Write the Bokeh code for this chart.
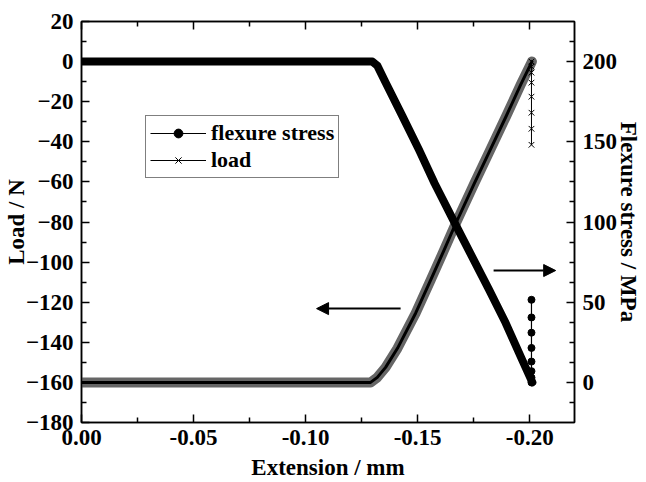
from bokeh.plotting import figure
from bokeh.models import (Range1d, LinearAxis, FixedTicker, PrintfTickFormatter,
                          Legend, LegendItem, Arrow, NormalHead, ColumnDataSource)
from bokeh.embed import file_html
from bokeh.resources import INLINE

# ---------------- data ----------------
stress_ext = [0.0, -0.1298, -0.1320, -0.1357, -0.1432, -0.1506, -0.1576,
              -0.1667, -0.1737, -0.1818, -0.1893, -0.1960, -0.2012]
stress_mpa = [200, 200, 197.5, 187, 166, 145, 124, 99, 80, 58, 37, 16, 0]

load_ext = [0.0, -0.1290, -0.1320, -0.1357, -0.1410, -0.1491, -0.1558,
            -0.1618, -0.1667, -0.1752, -0.1826, -0.1896, -0.1960, -0.2010]
load_n = [-160, -160, -157.5, -152.5, -143, -125.5, -109, -94, -81.5,
          -61, -43.5, -27, -11.5, 0]

end_ext = [-0.2008, -0.2008, -0.2008, -0.2008, -0.2008, -0.2008, -0.2008, -0.2008]
end_stress = [0, 3, 7, 13, 21.5, 31, 40.5, 51.5]
end_load = [0, -2.5, -5.5, -10.5, -17.5, -25.5, -33.5, -41.5]

x_ticks = [0.0, -0.05, -0.10, -0.15, -0.20]
x_minor = [-0.025, -0.075, -0.125, -0.175]
load_ticks = [-180, -160, -140, -120, -100, -80, -60, -40, -20, 0, 20]
load_minor = [-170, -150, -130, -110, -90, -70, -50, -30, -10, 10]
stress_ticks = [0, 50, 100, 150, 200]
stress_minor = [-12.5, 12.5, 25, 37.5, 62.5, 75, 87.5, 112.5, 125, 137.5,
                162.5, 175, 187.5, 212.5]

FONT = "Liberation Serif"

p = figure(width=646, height=482, output_backend="svg", toolbar_location=None,
           x_range=Range1d(0, -0.22), y_range=Range1d(-180, 20),
           min_border_left=81, min_border_right=72, min_border_top=21,
           min_border_bottom=60)
p.extra_y_ranges = {"stress": Range1d(-25, 225)}
p.grid.visible = False
p.outline_line_color = "black"
p.outline_line_width = 1.5
p.background_fill_color = "white"
p.border_fill_color = "white"

# ---------------- data glyphs ----------------
src_load = ColumnDataSource(dict(x=load_ext, y=load_n))
src_stress = ColumnDataSource(dict(x=stress_ext, y=stress_mpa))
src_end = ColumnDataSource(dict(x=end_ext, s=end_stress, l=end_load))

p.line("x", "y", source=src_load, line_color="#666666", line_width=10,
       line_join="round", line_cap="round")
p.line("x", "y", source=src_load, line_color="black", line_width=3,
       line_join="round", line_cap="round")
p.line("x", "y", source=src_stress, y_range_name="stress", line_color="black",
       line_width=8, line_join="round", line_cap="round")

r_ll = p.line("x", "l", source=src_end, line_color="black", line_width=1)
r_lx = p.scatter("x", "l", source=src_end, marker="x", size=8, line_color="black",
                 line_width=1)
r_sl = p.line("x", "s", source=src_end, y_range_name="stress", line_color="black",
              line_width=1.2)
r_sd = p.scatter("x", "s", source=src_end, y_range_name="stress", marker="circle",
                 size=7, fill_color="black", line_color="black")

# ---------------- axes ----------------
def style(ax, label_size="23px"):
    ax.major_label_text_font = FONT
    ax.major_label_text_font_style = "bold"
    ax.major_label_text_font_size = label_size
    ax.major_label_text_color = "black"
    ax.axis_label_text_font = FONT
    ax.axis_label_text_font_style = "bold"
    ax.axis_label_text_font_size = "23px"
    ax.axis_label_text_color = "black"
    ax.major_tick_in = 8
    ax.major_tick_out = 0
    ax.minor_tick_in = 5
    ax.minor_tick_out = 0
    ax.axis_line_width = 1.5
    ax.major_tick_line_width = 1.5
    ax.minor_tick_line_width = 1.5
    ax.axis_line_color = "black"
    ax.major_tick_line_color = "black"
    ax.minor_tick_line_color = "black"

xa = p.xaxis[0]
xa.ticker = FixedTicker(ticks=x_ticks, minor_ticks=x_minor)
xa.formatter = PrintfTickFormatter(format="%.2f")
xa.axis_label = "Extension / mm"
style(xa)
xa.major_label_standoff = 7
xa.axis_label_standoff = 7

ya = p.yaxis[0]
ya.ticker = FixedTicker(ticks=load_ticks, minor_ticks=load_minor)
ya.axis_label = "Load / N"
style(ya)
ya.major_label_standoff = 8
ya.axis_label_standoff = -6

ra = LinearAxis(y_range_name="stress",
                ticker=FixedTicker(ticks=stress_ticks, minor_ticks=stress_minor),
                axis_label="Flexure stress / MPa")
style(ra)
ra.major_label_standoff = 8
ra.axis_label_standoff = -4
p.add_layout(ra, "right")

ta = LinearAxis(ticker=FixedTicker(ticks=x_ticks, minor_ticks=x_minor))
style(ta, label_size="0px")
ta.major_label_standoff = 0
p.add_layout(ta, "above")

# ---------------- legend ----------------
legend = Legend(items=[LegendItem(label="flexure stress", renderers=[r_sl, r_sd]),
                       LegendItem(label="load", renderers=[r_ll, r_lx])],
                location=(64, 244))
legend.border_line_color = "black"
legend.border_line_width = 1
legend.background_fill_color = "white"
legend.background_fill_alpha = 1
legend.label_text_font = FONT
legend.label_text_font_style = "bold"
legend.label_text_font_size = "22px"
legend.label_text_color = "black"
legend.glyph_width = 56
legend.glyph_height = 22
legend.label_height = 22
legend.spacing = 1
legend.padding = 4
legend.margin = 0
legend.label_standoff = 5
p.add_layout(legend)

# ---------------- arrows ----------------
p.add_layout(Arrow(end=NormalHead(size=12, fill_color="black", line_color="black"),
                   x_start=-0.1424, y_start=-123.2, x_end=-0.1049, y_end=-123.2,
                   line_width=2, line_color="black"))
p.add_layout(Arrow(end=NormalHead(size=12, fill_color="black", line_color="black"),
                   x_start=-0.1839, y_start=-104.2, x_end=-0.2116, y_end=-104.2,
                   line_width=2, line_color="black"))

open("out.html", "w").write(file_html(p, INLINE))
